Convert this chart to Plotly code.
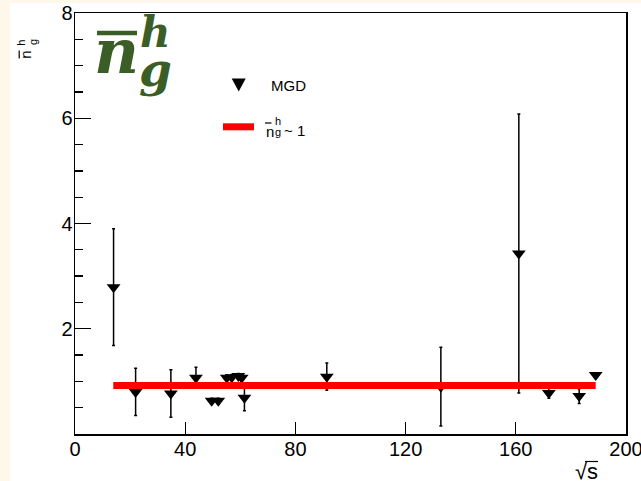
import plotly.graph_objects as go

# ---------------- data ----------------
sqrt_s = [14.0, 22.0, 34.8, 43.9, 49.6, 52.0, 55.1, 56.9, 59.3, 60.5, 61.5,
          91.4, 132.8, 161.1, 172.0, 183.0, 189.0]
ng_h = [2.79, 0.80, 0.77, 1.07, 0.63, 0.63, 1.07, 1.08, 1.10, 1.07, 0.69,
        1.09, 0.90, 3.43, 0.78, 0.72, 1.12]
ng_err = [1.11, 0.45, 0.45, 0.20, 0.05, 0.05, 0.05, 0.05, 0.05, 0.05, 0.25,
          0.26, 0.75, 2.65, 0.10, 0.14, 0.0]

line_x = [13.9, 189.0]
line_level = 0.92

x_ticks = [0, 40, 80, 120, 160, 200]
y_ticks = [2, 4, 6, 8]

# ---------------- geometry helpers ----------------
W, H = 641, 481
L, R, T, B = 75, 15, 13, 47
PW, PH = W - L - R, H - T - B


def fx(p):
    return (p - L) / PW


def fy(p):
    return (H - B - p) / PH


GREEN = "#3B5D26"
CREAM = "#FDF8EA"
SANS = "Liberation Sans, Arial, sans-serif"
SERIF = "DejaVu Serif, serif"

fig = go.Figure()

fig.add_trace(go.Scatter(
    x=sqrt_s, y=ng_h, mode="markers", name="MGD",
    marker=dict(symbol="triangle-down", size=12, color="black"),
    error_y=dict(type="data", array=ng_err, visible=True, color="black",
                 thickness=1.5, width=1.5),
    showlegend=False, cliponaxis=False, hoverinfo="skip",
))

fig.add_trace(go.Scatter(
    x=line_x, y=[line_level] * len(line_x), mode="lines",
    line=dict(color="#FF0000", width=7), showlegend=False, hoverinfo="skip",
))

shapes = [
    # cream page strips
    dict(type="rect", xref="paper", yref="paper", x0=fx(0), x1=fx(10),
         y0=fy(H), y1=fy(0), fillcolor=CREAM, line=dict(width=0), layer="below"),
    dict(type="rect", xref="paper", yref="paper", x0=fx(0), x1=fx(W),
         y0=fy(3), y1=fy(0), fillcolor=CREAM, line=dict(width=0), layer="below"),
    # bar over big title n
    dict(type="line", xref="paper", yref="paper", x0=fx(97), x1=fx(137),
         y0=fy(33), y1=fy(33), line=dict(color=GREEN, width=4.5)),
    # legend: triangle marker
    dict(type="path", xref="paper", yref="paper", xsizemode="pixel",
         ysizemode="pixel", xanchor=fx(238.7), yanchor=fy(85),
         path="M-7,6.5 L7,6.5 L0,-6.5 Z", fillcolor="black", line=dict(width=0)),
    # legend: red line
    dict(type="line", xref="paper", yref="paper", x0=fx(223), x1=fx(254),
         y0=fy(126.8), y1=fy(126.8), line=dict(color="#FF0000", width=7)),
    # legend label bar over n
    dict(type="line", xref="paper", yref="paper", x0=fx(265), x1=fx(271.5),
         y0=fy(123.0), y1=fy(123.0), line=dict(color="black", width=1.2)),
    # y title bar over n
    dict(type="line", xref="paper", yref="paper", x0=fx(19.2), x1=fx(19.2),
         y0=fy(50.5), y1=fy(58.5), line=dict(color="black", width=1.2)),
    # overbar of the radical in the x title
    dict(type="line", xref="paper", yref="paper", x0=fx(585), x1=fx(598),
         y0=fy(461.5), y1=fy(461.5), line=dict(color="black", width=1.2)),
]


def ann(text, x, y, size, family=SANS, color="black", xanchor="left",
        yanchor="middle", angle=0):
    return dict(text=text, x=fx(x), y=fy(y), xref="paper", yref="paper",
                showarrow=False, xanchor=xanchor, yanchor=yanchor,
                textangle=angle, font=dict(family=family, size=size, color=color))


annotations = [
    # big title
    ann("<b><i>n</i></b>", 92, 51.8, 62, SERIF, GREEN),
    ann("<b><i>h</i></b>", 138, 32.2, 42, SERIF, GREEN),
    ann("<b><i>g</i></b>", 137, 69.0, 47, SERIF, GREEN),
    # legend texts
    ann("MGD", 269, 85, 15),
    ann("n", 263.5, 131.0, 15),
    ann("h", 272.5, 121.5, 11),
    ann("g", 272.5, 132.0, 11),
    ann("~ 1", 281.5, 130.5, 15),
    # y axis title (rotated)
    ann("n", 24.8, 55, 15, xanchor="center", angle=-90),
    ann("h", 20.2, 42.5, 11, xanchor="center", angle=-90),
    ann("g", 33.0, 42.0, 11, xanchor="center", angle=-90),
    # x axis title
    ann("√s", 600, 471, 22, xanchor="right"),
]

fig.update_layout(
    width=W, height=H,
    margin=dict(l=L, r=R, t=T, b=B, pad=0, autoexpand=False),
    paper_bgcolor="white", plot_bgcolor="white",
    font=dict(family=SANS, size=20, color="black"),
    shapes=shapes, annotations=annotations,
    showlegend=False,
    xaxis=dict(range=[0, 200], tickmode="array", tickvals=x_ticks,
               ticks="inside", ticklen=12, tickwidth=1.3, tickcolor="black",
               showline=True, linecolor="black", linewidth=1.5, mirror=True,
               showgrid=False, zeroline=False, automargin=False,
               ticklabeloverflow="allow", ticklabelstandoff=-4,
               tickfont=dict(family=SANS, size=20, color="black")),
    yaxis=dict(range=[0, 8], tickmode="array", tickvals=y_ticks,
               ticks="inside", ticklen=16, tickwidth=1.3, tickcolor="black",
               showline=True, linecolor="black", linewidth=1.5, mirror=True,
               showgrid=False, zeroline=False, automargin=False,
               ticklabeloverflow="allow", ticklabelstandoff=-3,
               minor=dict(tickmode="linear", tick0=0, dtick=0.5,
                          ticks="inside", ticklen=8, tickcolor="black",
                          tickwidth=1.3, showgrid=False),
               tickfont=dict(family=SANS, size=20, color="black")),
)

fig.write_html("out.html",
               config={"displayModeBar": False, "staticPlot": True},
               post_script="document.body.style.margin='0px';"
                           "document.body.style.overflow='hidden';")
